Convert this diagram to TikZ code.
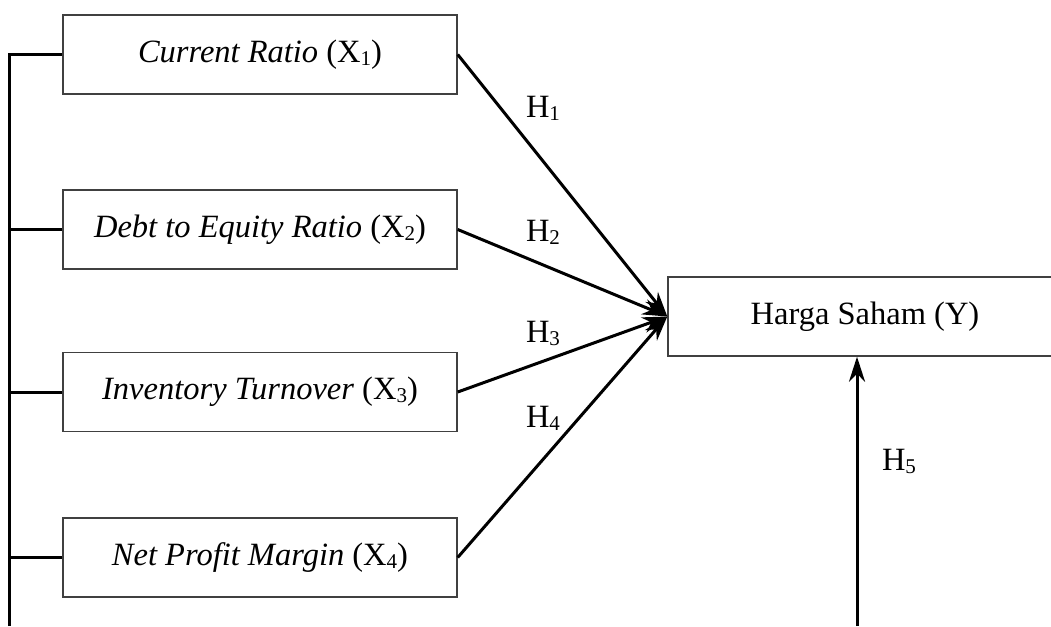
\documentclass[tikz,border=0pt]{standalone}
\usepackage{fontspec}
\setmainfont{Liberation Serif}
\usetikzlibrary{arrows.meta,calc}
\newcommand{\mysub}[1]{\raisebox{-3pt}{\fontsize{21}{21}\selectfont #1}}
\begin{document}
\begin{tikzpicture}[x=1pt,y=-1pt,
  varbox/.style={draw=black!75,line width=1.4pt,minimum width=394pt,minimum height=79pt,inner sep=0pt,
    font=\fontsize{32.5}{39}\selectfont},
  link/.style={line width=3pt},
  harrow/.style={link,-{Stealth[length=25pt,width=16pt,inset=8pt]}},
  hlab/.style={font=\fontsize{32.5}{39}\selectfont,inner sep=0pt}]
\clip (0,0) rectangle (1051,626);
\useasboundingbox (0,0) rectangle (1051,626);
\fill[white] (0,0) rectangle (1051,626);
\node[varbox] (b1) at (260,54.5) {\textit{Current Ratio} (X\mysub{1})};
\node[varbox] (b2) at (260,229.5) {\textit{Debt to Equity Ratio} (X\mysub{2})};
\node[varbox] (b3) at (260,392) {\textit{Inventory Turnover} (X\mysub{3})};
\node[varbox] (b4) at (260,557.5) {\textit{Net Profit Margin} (X\mysub{4})};
\node[varbox,minimum width=394pt] (y) at (865,316.5) {Harga Saham (Y)};
\coordinate (lb) at (9,626);
\coordinate (vb) at (857,626);
\draw[link] (lb) -- (lb |- b1.west) -- (b1.west);
\draw[link] (lb |- b2.west) -- (b2.west);
\draw[link] (lb |- b3.west) -- (b3.west);
\draw[link] (lb |- b4.west) -- (b4.west);
\draw[harrow] (b1.east) -- (y.west);
\draw[harrow] (b2.east) -- (y.west);
\draw[harrow] (b3.east) -- (y.west);
\draw[harrow] (b4.east) -- (y.west);
\draw[harrow] (vb) -- (vb |- y.south);
\node[hlab] (h1) at (543,108) {H\mysub{1}};
\node[hlab] (h2) at (543,232) {H\mysub{2}};
\node[hlab] (h3) at (543,333) {H\mysub{3}};
\node[hlab] (h4) at (543,418) {H\mysub{4}};
\node[hlab] (h5) at (899,461) {H\mysub{5}};
\end{tikzpicture}
\end{document}
